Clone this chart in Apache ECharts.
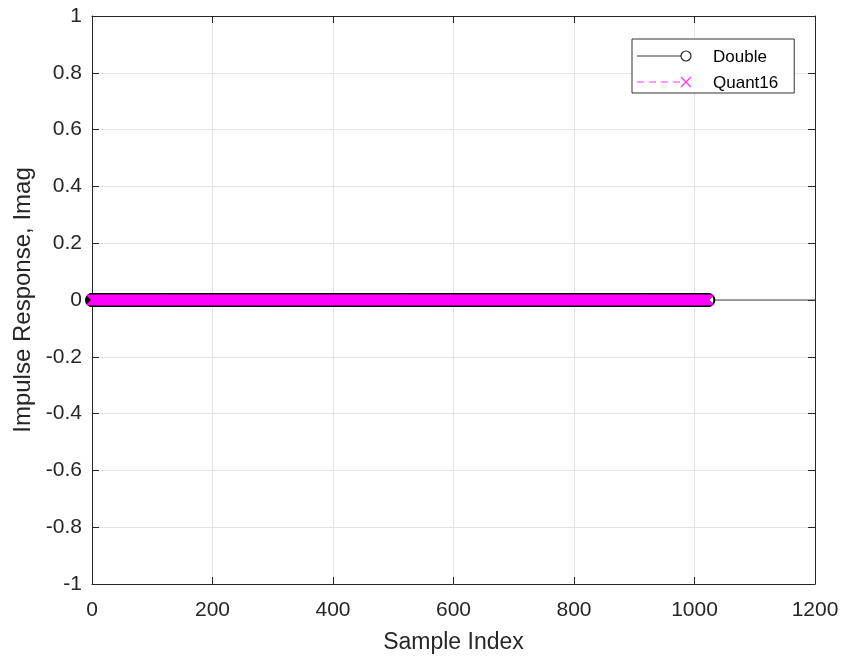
<!DOCTYPE html>
<html>
<head>
<meta charset="utf-8">
<script src="https://cdn.jsdelivr.net/npm/echarts@6/dist/echarts.min.js"></script>
<style>html,body{margin:0;padding:0;background:#fff}#c{width:845px;height:659px}</style>
</head>
<body>
<div id="c"></div>
<script>
// ---- data ----
var xTicks = [0, 200, 400, 600, 800, 1000, 1200];
var yTicks = [-1, -0.8, -0.6, -0.4, -0.2, 0, 0.2, 0.4, 0.6, 0.8, 1];
var nSamples = 1024;            // sample indices 0..1023
var doubleValues = [];          // every imaginary value reads as 0
var quant16Values = [];
for (var i = 0; i < nSamples; i++) { doubleValues.push(0); quant16Values.push(0); }
var doubleTailEnd = 1200;       // Double's line continues to the axis edge

var seriesNames = ['Double', 'Quant16'];

// ---- build chart ----
var font = 'Liberation Sans, Arial, Helvetica, sans-serif';
var axisColor = '#262626';
var doubleData = doubleValues.map(function (v, i) { return [i, v]; });
doubleData.push({ value: [doubleTailEnd, 0], symbol: 'none' });
var quantData = quant16Values.map(function (v, i) { return [i, v]; });
var xSym = 'path://M0,1L1,0L5,4L9,0L10,1L6,5L10,9L9,10L5,6L1,10L0,9L4,5Z';

var chart = echarts.init(document.getElementById('c'), null, { renderer: 'canvas' });
var fmtY = function (v) { return String(+(+v).toFixed(1)); };
var fmtX = function (v) { return String(v); };
var tickStyle = { show: true, inside: true, length: 7, lineStyle: { color: axisColor } };

// legend icon graphics (MATLAB style: line with marker at right end)
var legendGraphics = [
  { type: 'line', shape: { x1: 637, y1: 56, x2: 681, y2: 56 }, style: { stroke: '#333', lineWidth: 1 }, z: 100 },
  { type: 'circle', shape: { cx: 686, cy: 56, r: 5 }, style: { stroke: '#262626', fill: 'none', lineWidth: 1.2 }, z: 100 },
  { type: 'line', shape: { x1: 637, y1: 82, x2: 680, y2: 82 }, style: { stroke: '#ff33ff', lineWidth: 1.2, lineDash: [7, 5] }, z: 100 },
  { type: 'line', shape: { x1: 681, y1: 77, x2: 691, y2: 87 }, style: { stroke: '#ff33ff', lineWidth: 1.3 }, z: 100 },
  { type: 'line', shape: { x1: 681, y1: 87, x2: 691, y2: 77 }, style: { stroke: '#ff33ff', lineWidth: 1.3 }, z: 100 }
];

chart.setOption({
  animation: false,
  backgroundColor: '#fff',
  textStyle: { fontFamily: font },
  grid: { left: 92, right: 30, top: 16, bottom: 75, containLabel: false },
  legend: {
    orient: 'vertical',
    left: 632, top: 39,
    data: seriesNames,
    backgroundColor: '#fff',
    borderColor: '#333', borderWidth: 1, borderRadius: 0,
    padding: [10, 16, 1, 5],
    itemGap: 9,
    itemWidth: 55, itemHeight: 14,
    itemStyle: { opacity: 0 },
    lineStyle: { opacity: 0 },
    selectedMode: false,
    textStyle: { fontFamily: font, fontSize: 17, lineHeight: 14, color: '#000', padding: [0, 0, 0, 15] }
  },
  graphic: legendGraphics,
  xAxis: [{
    type: 'value', min: xTicks[0], max: xTicks[xTicks.length - 1], interval: xTicks[1] - xTicks[0],
    name: 'Sample Index', nameLocation: 'middle', nameGap: 47,
    nameTextStyle: { fontFamily: font, fontSize: 23, color: axisColor },
    axisLine: { show: true, onZero: false, lineStyle: { color: axisColor } },
    axisTick: tickStyle,
    axisLabel: { fontFamily: font, fontSize: 21, color: axisColor, margin: 16, formatter: fmtX },
    splitLine: { show: true, lineStyle: { color: '#e3e3e3' } }
  }, {
    type: 'value', position: 'top', min: xTicks[0], max: xTicks[xTicks.length - 1], interval: xTicks[1] - xTicks[0],
    axisLine: { show: true, onZero: false, lineStyle: { color: axisColor } },
    axisTick: tickStyle, axisLabel: { show: false }, splitLine: { show: false }
  }],
  yAxis: [{
    type: 'value', min: yTicks[0], max: yTicks[yTicks.length - 1], interval: 0.2,
    name: 'Impulse Response, Imag', nameLocation: 'middle', nameGap: 57, nameRotate: 90,
    nameTextStyle: { fontFamily: font, fontSize: 24, color: axisColor },
    axisLine: { show: true, onZero: false, lineStyle: { color: axisColor } },
    axisTick: tickStyle,
    axisLabel: { fontFamily: font, fontSize: 21, color: axisColor, margin: 10, formatter: fmtY },
    splitLine: { show: true, lineStyle: { color: '#e3e3e3' } }
  }, {
    type: 'value', position: 'right', min: yTicks[0], max: yTicks[yTicks.length - 1], interval: 0.2,
    axisLine: { show: true, onZero: false, lineStyle: { color: axisColor } },
    axisTick: tickStyle, axisLabel: { show: false }, splitLine: { show: false }
  }],
  series: [{
    name: seriesNames[0], type: 'line', data: doubleData,
    symbol: 'emptyCircle', symbolSize: 12, showAllSymbol: true,
    lineStyle: { color: '#444', width: 1 },
    itemStyle: { color: '#000', borderColor: '#000', borderWidth: 1.2 },
    emphasis: { disabled: true }
  }, {
    name: seriesNames[1], type: 'line', data: quantData,
    symbol: xSym, symbolSize: 11, showAllSymbol: true,
    lineStyle: { color: '#ff00ff', width: 1, type: [6, 4] },
    itemStyle: { color: '#ff00ff' },
    emphasis: { disabled: true }
  }]
});
</script>
</body>
</html>
